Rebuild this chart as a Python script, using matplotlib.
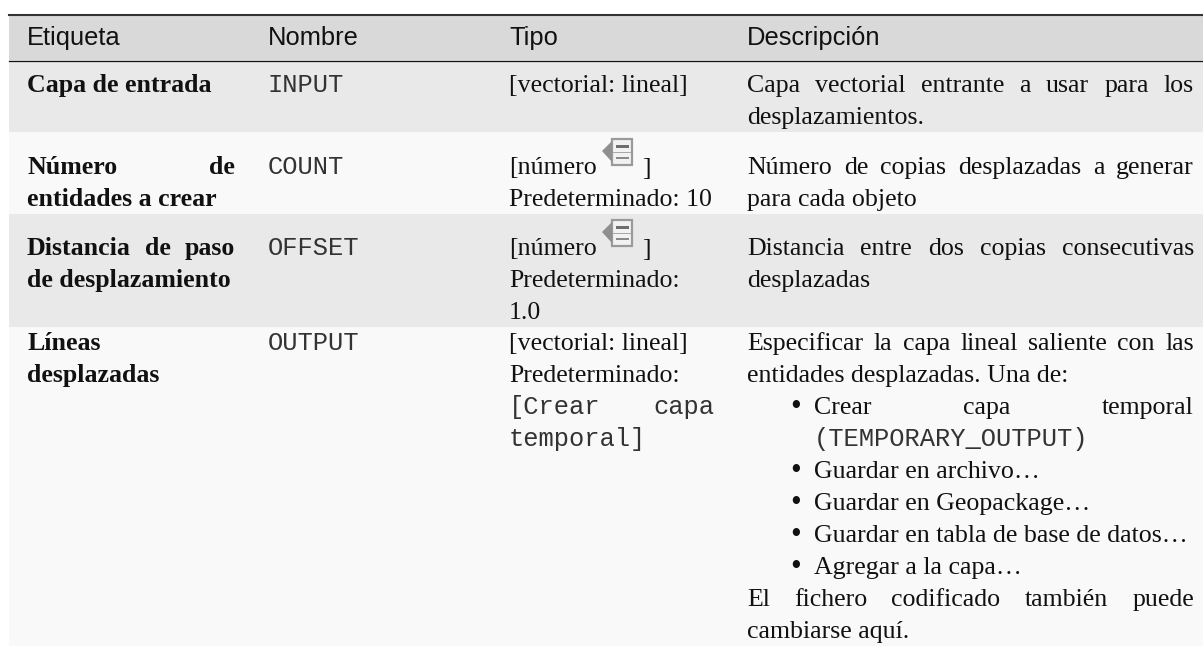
import matplotlib
matplotlib.use('Agg')
import matplotlib.pyplot as plt
from matplotlib.patches import Rectangle, Polygon

W, H = 1203, 646

headers = ['Etiqueta', 'Nombre', 'Tipo', 'Descripción']
labels = [['Capa de entrada'],
          ['Número de', 'entidades a crear'],
          ['Distancia de paso', 'de desplazamiento'],
          ['Líneas', 'desplazadas']]
names = ['INPUT', 'COUNT', 'OFFSET', 'OUTPUT']
types = [['[vectorial: lineal]'],
         ['[número', 'Predeterminado: 10'],
         ['[número', 'Predeterminado:', '1.0'],
         ['[vectorial: lineal]', 'Predeterminado:']]
type_mono = ['[Crear capa', 'temporal]']
descs = [['Capa vectorial entrante a usar para los', 'desplazamientos.'],
         ['Número de copias desplazadas a generar', 'para cada objeto'],
         ['Distancia entre dos copias consecutivas', 'desplazadas'],
         ['Especificar la capa lineal saliente con las', 'entidades desplazadas. Una de:']]
bullets = ['Crear capa temporal', '(TEMPORARY_OUTPUT)', 'Guardar en archivo…',
           'Guardar en Geopackage…', 'Guardar en tabla de base de datos…',
           'Agregar a la capa…']
desc_end = ['El fichero codificado también puede', 'cambiarse aquí.']

# layout in pixels
col_x = [27, 268, 509, 747]
col_right = [235, 480, 714, 1194]
row_edges = [60, 132, 214, 327, 646]
row_colors = ['#e9e9e9', '#f9f9f9', '#e9e9e9', '#f9f9f9']
row_base = [92, 174, 255, 350]
line_h = 32

SERIF = 'Liberation Serif'
SANS = 'Liberation Sans'
MONO = 'Liberation Mono'
TXT = '#111111'
SERIF_SIZE = 18.6
MONO_SIZE = 18.4


def put(x, y, s, family=SERIF, size=SERIF_SIZE, weight='normal', right=None, color=TXT):
    # right given = justify the words out to that pixel
    if right is None or ' ' not in s:
        return ax.text(x, y, s, family=family, fontsize=size, fontweight=weight,
                       color=color, va='baseline', ha='left')
    words = s.split(' ')
    items = [ax.text(x, y, w, family=family, fontsize=size, fontweight=weight,
                     color=color, va='baseline', ha='left') for w in words]
    widths = [t.get_window_extent(rend).width for t in items]
    gap = (right - x - sum(widths)) / (len(words) - 1)
    cur = x
    for t, w in zip(items, widths):
        t.set_x(cur)
        cur += w + gap


def icon(y):
    # the small grey "advanced" icon next to [número
    ax.add_patch(Rectangle((612, y + 1), 20, 26, fc='#f2f2f2', ec='#9a9a9a', lw=1.6))
    ax.add_patch(Rectangle((616, y + 7), 13, 3, fc='#6e6e6e', ec='none'))
    ax.add_patch(Rectangle((616, y + 19), 13, 2, fc='#8a8a8a', ec='none'))
    ax.add_patch(Rectangle((613, y + 14), 18, 1.2, fc='#a8a8a8', ec='none'))
    ax.add_patch(Polygon([(602, y + 13), (612, y + 3), (612, y + 24)], fc='#8f8f8f', ec='none'))


fig = plt.figure(figsize=(W / 100, H / 100), dpi=100)
ax = fig.add_axes([0, 0, 1, 1])
ax.set_xlim(0, W)
ax.set_ylim(H, 0)
ax.axis('off')
rend = fig.canvas.get_renderer()

# bands and rules
ax.add_patch(Rectangle((9, 14), W - 9, 46, fc='#d9d9d9', ec='none'))
for i in range(4):
    ax.add_patch(Rectangle((9, row_edges[i]), W - 9, row_edges[i + 1] - row_edges[i],
                           fc=row_colors[i], ec='none'))
ax.plot([9, W], [14.5, 14.5], color='#333333', lw=1.5)
ax.plot([9, W], [60.5, 60.5], color='#111111', lw=0.9)

for x, h in zip(col_x, headers):
    put(x, 45, h, family=SANS, size=18.4)

for i in range(4):
    y0 = row_base[i]
    for j, s in enumerate(labels[i]):
        just = j == 0 and i in (1, 2)
        put(col_x[0], y0 + j * line_h, s, weight='bold', right=col_right[0] if just else None)
    put(col_x[1], y0, names[i], family=MONO, size=MONO_SIZE, color='#333333')
    for j, s in enumerate(types[i]):
        put(col_x[2], y0 + j * line_h, s)
    for j, s in enumerate(descs[i]):
        put(col_x[3], y0 + j * line_h, s, right=col_right[3] if j == 0 else None)

# [número <icon> ] in rows 2 and 3
for i in (1, 2):
    y0 = row_base[i]
    icon(y0 - 36)
    put(642, y0 + 1, ']')

# mono part of the output type cell
put(col_x[2], row_base[3] + 2 * line_h, type_mono[0], family=MONO, size=MONO_SIZE,
    right=col_right[2], color='#333333')
put(col_x[2], row_base[3] + 3 * line_h, type_mono[1], family=MONO, size=MONO_SIZE, color='#333333')

# bullet list in the output description
yb = row_base[3] + 2 * line_h
put(814, yb, bullets[0], right=col_right[3])
put(814, yb + line_h, bullets[1], family=MONO, size=MONO_SIZE, color='#333333')
for k, s in enumerate(bullets[2:]):
    put(814, yb + (k + 2) * line_h, s)
for k in (0, 2, 3, 4, 5):
    put(790, yb + k * line_h + 1, '•', size=22)
put(col_x[3], yb + 6 * line_h, desc_end[0], right=col_right[3])
put(col_x[3], yb + 7 * line_h, desc_end[1])

fig.savefig('out.png', dpi=100, facecolor='white')
